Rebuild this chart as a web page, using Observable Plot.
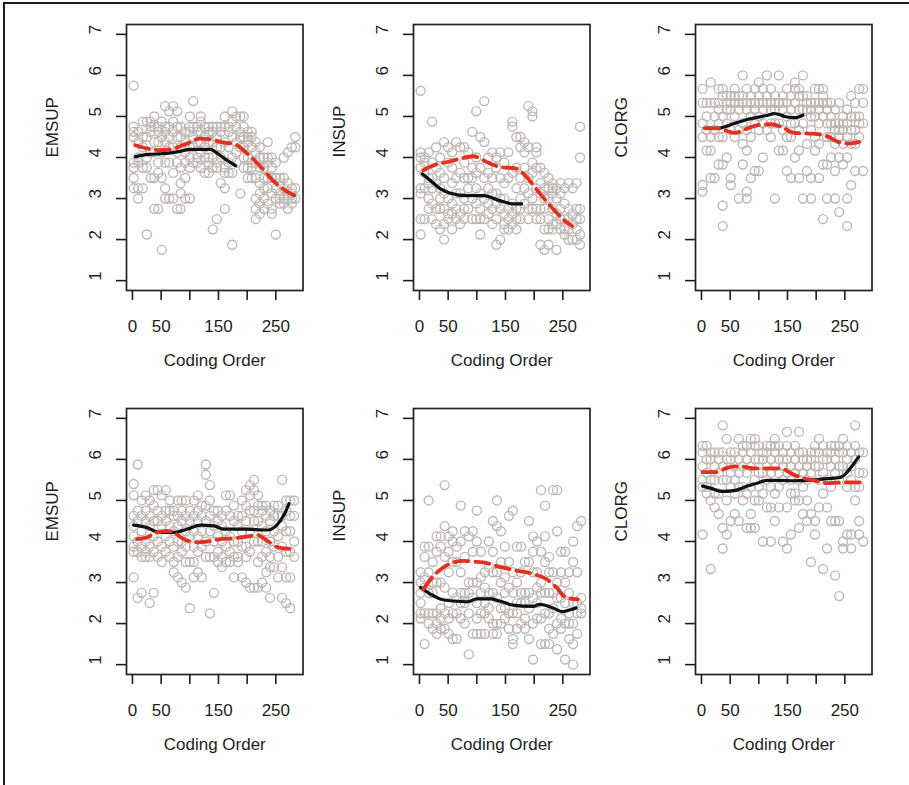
<!DOCTYPE html>
<html>
<head>
<meta charset="utf-8">
<script src="https://cdn.jsdelivr.net/npm/d3@7"></script>
<script src="https://cdn.jsdelivr.net/npm/@observablehq/plot@0.6"></script>
<style>
  html, body { margin: 0; padding: 0; background: #fff; }
  #root { position: relative; width: 909px; height: 785px; overflow: hidden; background: #fff; }
  .edge { position: absolute; background: #1c1c1c; }
</style>
</head>
<body>
<div id="root">
  <div class="edge" style="left:3px;top:2px;width:2px;height:783px;"></div>
  <div class="edge" style="left:3px;top:2px;width:906px;height:2px;"></div>
</div>
<script>
// ---------- tick values / labels ----------
const xTicks = [0, 50, 100, 150, 200, 250];
const xTickShown = [0, 50, 150, 250];
const yTicks = [1, 2, 3, 4, 5, 6, 7];
const xTitle = "Coding Order";
const yTitles = ["EMSUP", "INSUP", "CLORG", "EMSUP", "INSUP", "CLORG"];

// ---------- scatter data: [coding order, [scores...]] ----------
const emsupTop = [
  [2,[5.75,4.75,4.625,4.5,3.875,3.75,3.5,3.25]],[10,[4.625,4.375,4.0,3.875,3.25,3.0]],
  [18,[4.875,4.5,4.25,3.75,3.25]],[25,[4.875,4.5,4.0,3.75,2.125]],
  [32,[4.875,4.75,4.625,4.125,3.5]],[38,[5.0,4.75,4.375,4.125,3.5,2.75]],
  [45,[4.75,4.625,4.375,3.875,3.625,2.75]],[51,[4.875,4.5,4.125,3.5,1.75]],
  [57,[5.25,4.75,4.625,4.375,3.875,3.25,3.0]],[64,[5.125,4.75,4.5,4.25,3.875,3.0]],
  [71,[5.25,4.875,4.625,4.25,3.625,3.0]],[78,[5.125,4.75,4.5,4.125,3.875,2.75]],
  [84,[4.75,4.5,4.25,3.75,3.375,3.125,2.75]],[92,[4.625,4.375,4.125,3.875,3.5,3.0]],
  [100,[5.0,4.75,4.625,4.25,4.0,3.75,3.0]],[106,[5.375,4.75,4.5,4.25,3.875]],
  [113,[4.75,4.625,4.375,4.0,3.875]],[119,[5.0,4.875,4.625,4.375,4.125,3.75]],
  [126,[4.75,4.5,4.25,4.0,3.625]],[133,[4.75,4.625,4.375,4.0,3.875,3.625]],
  [140,[4.75,4.625,4.375,4.0,3.75,2.25]],[147,[4.75,4.5,4.25,3.875,3.75,2.5]],
  [154,[4.75,4.625,4.25,4.0,3.375]],[161,[5.0,4.75,4.375,3.75,3.625,3.25,2.75]],
  [168,[4.75,4.625,4.25,3.875,3.625]],[174,[5.125,4.875,4.5,4.0,3.625,1.875]],
  [181,[5.0,4.75,4.375,4.125,3.875]],[188,[5.0,4.625,4.5,4.25,3.125]],
  [194,[5.0,4.75,4.5,4.25,4.0,3.75]],[201,[4.625,4.5,4.375,4.0,3.75,3.5]],
  [208,[4.625,4.5,4.25,3.875,3.75,3.5]],[215,[4.375,4.125,3.875,3.5,3.0,2.75,2.5]],
  [222,[4.25,4.0,3.75,3.375,3.125,2.875,2.625]],[229,[4.0,3.75,3.5,3.25,3.0,2.75]],
  [236,[4.375,4.0,3.875,3.5,3.25,2.875]],[243,[4.0,3.75,3.5,3.125,2.75,2.625]],
  [250,[3.875,3.5,3.25,3.0,2.125]],[257,[3.5,3.375,3.125,3.0,2.875]],
  [264,[4.0,3.5,3.25,3.0,2.875]],[271,[4.125,3.375,3.125,3.0,2.75]],
  [278,[4.25,3.25,3.125,3.0,2.875]],[284,[4.5,4.25,3.25,3.0]]
];
const insupTop = [
  [2,[5.625,4.125,4.0,3.75,3.25,3.125,2.5,2.125]],[9,[4.0,3.875,3.625,3.25,2.5]],
  [16,[4.125,3.5,3.375,3.0,2.75]],[22,[4.875,3.875,3.5,3.25,2.875,2.5]],
  [29,[4.25,3.75,3.375,2.75,2.375]],[36,[4.0,3.625,3.25,3.0,2.75,2.25]],
  [43,[4.375,3.5,3.125,2.75,2.375,2.0]],[50,[4.25,3.875,3.0,2.625,2.5]],
  [57,[4.125,3.75,3.375,2.875,2.625,2.25]],[64,[4.375,3.5,3.125,2.75,2.5]],
  [71,[4.25,3.625,3.125,2.625,2.375]],[78,[4.25,3.875,3.5,3.0,2.75,2.5]],
  [85,[4.125,3.5,3.25,2.75]],[92,[4.625,3.75,3.5,3.0,2.5]],
  [99,[5.125,4.0,3.625,3.25,2.875,2.5]],[106,[4.5,3.75,3.125,2.75,2.5,2.125]],
  [113,[5.375,4.375,3.5,3.0,2.5]],[120,[4.0,3.625,3.25,2.875,2.625]],
  [127,[4.125,3.5,3.125,2.75,2.375]],[134,[4.0,3.75,3.125,2.875,2.5,1.875]],
  [141,[4.125,3.5,3.0,2.75,2.0]],[148,[3.875,3.375,3.0,2.625,2.375,2.25]],
  [155,[4.125,3.5,2.75,2.5,2.25]],[162,[4.875,4.75,3.625,2.875,2.625,2.375]],
  [169,[4.5,3.75,3.25,2.75,2.5,2.25]],[176,[4.5,4.25,3.5,3.0,2.75,2.5]],
  [183,[4.375,4.125,3.75,3.25,2.875]],[190,[5.25,4.25,3.5,3.125,2.75,2.5]],
  [197,[5.125,5.0,3.875,3.625,3.0,2.75]],[204,[4.25,4.125,3.75,3.25,2.75,2.5]],
  [211,[3.75,3.375,3.125,2.75,2.5,1.875]],[218,[3.625,3.25,3.0,2.75,2.25,1.75]],
  [225,[3.5,3.25,3.0,2.5,2.25,1.875]],[232,[3.375,3.25,3.125,2.75,2.375,2.25]],
  [239,[3.25,3.0,2.625,2.375,1.75]],[246,[3.375,3.125,2.75,2.5,2.25]],
  [253,[3.25,2.875,2.5,2.25,2.125]],[260,[3.375,2.75,2.5,2.25,2.0]],
  [267,[3.25,2.625,2.375,2.0]],[274,[3.375,2.75,2.5,2.25,2.0]],
  [280,[4.75,4.0,2.75,2.5,2.125,1.875]]
];
const clorgTop = [
  [2,[5.67,5.33,4.83,4.5,3.33,3.17]],[9,[5.33,5.0,4.67,4.17]],[16,[5.83,5.33,4.5,4.17,3.5]],
  [23,[5.33,5.0,4.67,3.5]],[30,[5.67,5.33,5.17,4.83,4.5,3.83]],[37,[5.67,5.5,5.0,4.5,3.83,2.83,2.33]],
  [44,[5.5,5.33,5.17,4.83,4.0]],[51,[5.5,5.33,5.17,4.67,3.5,3.33]],[58,[5.67,5.5,5.33,5.0,4.5]],
  [65,[5.5,5.33,5.17,4.67,3.0]],[72,[6.0,5.5,5.33,4.83,4.33,3.83]],[79,[5.67,5.33,5.17,4.67,4.17,3.17,3.0]],
  [86,[5.5,5.33,5.0,4.5,3.5]],[93,[5.67,5.33,5.17,4.83,3.67]],[100,[5.83,5.5,5.33,5.0,4.67,3.67]],
  [107,[5.67,5.33,5.17,4.83,4.0]],[114,[6.0,5.5,5.33,4.67]],[121,[5.67,5.33,5.17,4.83,4.5]],
  [128,[5.5,5.33,5.17,4.83,3.0]],[135,[6.0,5.33,4.83,4.17]],[142,[5.5,5.33,5.17,4.67,4.17]],
  [149,[5.67,5.33,5.0,4.5,3.67]],[156,[5.5,5.17,4.83,4.5,3.5]],[163,[5.83,5.67,5.33,4.83,4.0]],
  [170,[5.67,5.5,5.17,4.67,4.17,3.5]],[177,[6.0,5.5,5.17,4.83,3.0]],[184,[5.5,5.33,5.17,4.33,3.67]],
  [191,[5.33,5.17,5.0,4.67,3.5,3.0]],[198,[5.67,5.33,5.0,4.5,4.17]],[205,[5.67,5.33,5.17,4.83,4.33,3.5]],
  [212,[5.67,5.5,5.33,5.0,3.83,2.5]],[219,[5.33,5.17,4.83,4.5,3.83,3.0]],[226,[5.33,5.0,4.83,4.5,4.0]],
  [233,[5.17,4.83,4.67,4.33,3.67,3.0]],[240,[5.33,4.83,4.67,4.5,4.0,2.67]],[247,[5.0,4.83,4.67,4.33,3.83]],
  [254,[5.17,4.83,4.5,4.0,3.0,2.33]],[261,[5.5,5.0,4.67,4.33,3.33]],[268,[5.33,5.0,4.67,4.33,3.67]],
  [275,[5.67,5.0,4.83,4.5]],[282,[5.67,5.33,4.83,3.67]]
];
const emsupBottom = [
  [2,[5.4,5.125,4.625,4.375,4.125,3.875,3.75,3.125]],[9,[5.875,4.75,4.5,4.0,3.75,2.625]],
  [16,[5.0,4.625,4.25,3.875,3.625,2.75]],[23,[5.125,4.75,4.5,4.0,3.75,3.625]],
  [30,[5.0,4.625,4.375,3.875,3.625,2.5]],[37,[5.25,4.875,4.5,4.125,3.75,2.75]],
  [44,[5.25,4.75,4.5,4.0,3.625]],[51,[5.125,4.625,4.375,3.875,3.5]],
  [58,[5.25,4.75,4.5,4.125,3.75]],[65,[5.0,4.75,4.375,4.0,3.625]],
  [72,[4.75,4.625,4.25,3.875,3.5,3.25]],[79,[5.0,4.625,4.375,4.0,3.625,3.125]],
  [86,[5.0,4.75,4.5,4.0,3.75,3.0]],[93,[5.0,4.625,4.25,3.875,3.5,2.875]],
  [100,[4.75,4.5,4.125,3.5,2.375]],[107,[5.0,4.625,4.25,3.875,3.5,3.125]],
  [114,[5.125,4.75,4.5,4.125,3.75,3.25]],[121,[4.875,4.625,4.25,3.875,3.125]],
  [128,[5.875,5.625,4.875,4.5,4.0,3.625]],[135,[5.375,5.0,4.625,4.25,3.625,2.25]],
  [142,[4.75,4.375,4.0,3.625,2.75]],[149,[4.75,4.5,4.125,3.75,3.5]],
  [156,[4.625,4.375,4.0,3.625,3.375]],[163,[5.125,4.75,4.25,3.875,3.5]],
  [170,[5.125,4.625,4.125,3.75,3.5]],[177,[4.875,4.5,4.0,3.625,3.125]],
  [184,[4.625,4.375,4.0,3.625,3.5]],[191,[5.0,4.625,4.25,3.875,3.125]],
  [198,[5.25,4.875,4.5,3.875,3.625,3.0]],[205,[5.375,5.125,4.75,4.25,3.75,2.875]],
  [212,[5.5,5.25,4.75,4.5,4.0,2.875]],[219,[5.125,4.875,4.5,4.0,3.5,2.875]],
  [226,[4.875,4.75,4.375,4.0,3.625,3.0]],[233,[4.875,4.625,4.25,3.75,3.25,2.875]],
  [240,[4.75,4.5,4.0,3.625,3.375,2.625]],[247,[4.875,4.625,4.25,3.875,3.375]],
  [254,[4.875,4.625,4.125,3.625,3.125]],[261,[5.5,4.625,4.375,3.875,3.375,2.625]],
  [268,[5.0,4.75,4.25,3.75,3.125,2.5]],[275,[5.0,4.625,4.25,3.75,3.125,2.375]],
  [282,[5.0,4.625,4.0,3.625]]
];
const insupBottom = [
  [2,[3.25,3.0,2.75,2.5,2.25,2.125]],[9,[3.875,3.625,3.125,2.875,2.25,1.5]],
  [16,[5.0,3.875,3.25,2.75,2.25,2.0]],[23,[3.5,3.0,2.75,2.25,1.875]],
  [30,[4.125,3.75,3.0,2.25,2.0,1.75]],[37,[4.125,3.875,3.0,2.375,2.125,1.875]],
  [44,[5.375,4.375,3.625,2.875,2.25,1.875]],[51,[4.125,3.75,3.25,2.5,2.125,1.75]],
  [58,[4.25,4.0,3.5,2.75,2.25,1.625]],[65,[3.875,3.5,2.625,2.25,1.625]],
  [72,[4.875,4.0,3.25,2.75,2.5,2.125]],[79,[4.25,3.625,2.75,2.5,2.0]],
  [86,[4.125,3.0,2.75,2.25,1.25]],[93,[4.25,3.75,3.0,2.625,1.75]],
  [100,[4.75,4.0,3.0,2.5,2.125,1.75]],[107,[3.75,3.125,2.75,2.25,1.75]],
  [114,[3.25,2.875,2.5,2.25,1.75]],[121,[4.0,3.375,2.75,2.375,2.125]],
  [128,[4.5,3.75,3.25,2.75,2.0,1.75]],[135,[5.0,4.375,3.25,2.625,2.0,1.75]],
  [142,[4.25,3.5,3.0,2.375,2.0]],[149,[3.875,3.125,2.75,2.375,2.125]],
  [156,[4.625,3.5,2.875,2.25,1.875]],[163,[4.75,3.25,2.75,2.25,1.625,1.5]],
  [170,[3.875,3.0,2.5,2.25,1.875]],[177,[3.875,3.25,2.75,2.5,2.0]],
  [184,[3.5,2.75,2.5,2.125,1.875]],[191,[4.5,3.5,2.75,2.375,1.625]],
  [198,[4.125,3.75,3.25,2.625,2.0,1.125]],[205,[4.0,3.25,2.875,2.5,2.125]],
  [212,[5.25,3.75,3.0,2.75,2.125,1.5]],[219,[4.875,4.125,3.5,2.75,2.25,1.5]],
  [226,[3.625,3.25,2.75,2.25,1.875,1.5]],[233,[5.25,3.25,2.75,2.375,1.75]],
  [240,[5.25,4.25,3.0,2.625,2.0,1.375]],[247,[3.75,3.25,2.625,2.125,1.875]],
  [254,[3.75,3.0,2.5,2.0,1.125]],[261,[3.25,2.75,2.25,2.0,1.625]],
  [268,[4.0,3.5,2.5,2.0,1.5,1.0]],[275,[4.375,3.25,2.5,2.25,1.75]],
  [282,[4.5,2.625,2.375,2.25]]
];
const clorgBottom = [
  [2,[6.33,6.17,5.83,5.5,5.33,4.17]],[9,[6.33,6.0,5.67,5.33,5.17]],[16,[6.17,6.0,5.5,5.0,3.33]],
  [23,[6.17,5.83,5.5,5.17,4.83]],[30,[6.17,6.0,5.67,5.17,4.67]],[37,[6.83,6.17,5.83,5.5,4.33,3.83]],
  [44,[6.5,6.0,5.5,5.0,4.17]],[51,[6.17,6.0,5.67,5.33,4.5]],[58,[6.17,5.83,5.5,5.17,4.67]],
  [65,[6.5,6.0,5.67,5.33,4.5]],[72,[6.33,6.17,5.83,5.33,5.0]],[79,[6.33,6.0,5.67,5.17,4.33]],
  [86,[6.5,6.17,5.83,5.33,4.67,4.33]],[93,[6.5,6.33,6.0,5.5,5.0,4.33]],[100,[6.33,6.0,5.67,5.33,5.0]],
  [107,[6.17,6.0,5.67,5.17,4.0]],[114,[6.33,6.17,5.83,5.5,4.83]],[121,[6.33,6.0,5.67,5.33,4.83,4.0]],
  [128,[6.5,6.33,6.17,5.83,5.17,4.5]],[135,[6.33,6.0,5.67,5.33,4.83]],[142,[6.17,6.0,5.83,5.5,4.0]],
  [149,[6.67,6.33,6.0,5.67,4.83,3.83]],[156,[6.17,5.83,5.5,5.17,4.17]],[163,[6.33,6.0,5.67,5.17,5.0]],
  [170,[6.67,6.17,5.83,5.5,5.0,4.33]],[177,[6.17,6.0,5.67,5.33,4.67]],[184,[6.0,5.83,5.5,5.0,4.5]],
  [191,[6.17,6.0,5.67,4.67,3.5]],[198,[6.33,6.17,5.83,4.5,4.17]],[205,[6.5,6.17,5.83,5.5,4.83]],
  [212,[6.33,6.0,5.67,5.17,3.33]],[219,[6.17,6.0,5.5,4.83,3.83]],[226,[6.33,6.17,5.83,5.33,4.5]],
  [233,[6.33,6.0,5.67,4.5,3.17]],[240,[6.33,6.17,5.83,5.5,4.5,2.67]],[247,[6.5,6.17,5.83,4.0,3.83]],
  [254,[6.33,6.0,5.67,5.33,4.17]],[261,[6.17,5.83,5.5,4.17,3.83]],[268,[6.83,6.33,6.0,5.33,5.0]],
  [275,[6.17,5.67,5.33,4.5,4.17]],[282,[6.17,5.67,4.0]]
];

// ---------- smoother lines: [coding order, score] ----------
const emsupTopSolid = [[5,4.02],[25,4.07],[60,4.1],[83,4.15],[101,4.2],[136,4.2],[150,4.08],[165,3.93],[180,3.8]];
const emsupTopDash = [[5,4.3],[25,4.22],[48,4.18],[72,4.22],[95,4.34],[118,4.46],[136,4.44],[160,4.36],[177,4.33],[200,4.1],[224,3.77],[247,3.41],[276,3.12],[282,3.08]];
const insupTopSolid = [[5,3.6],[19,3.44],[36,3.24],[54,3.13],[83,3.07],[112,3.07],[140,2.95],[164,2.87],[178,2.87]];
const insupTopDash = [[7,3.69],[25,3.81],[48,3.89],[71,3.97],[94,4.03],[117,3.89],[140,3.77],[169,3.73],[187,3.52],[210,3.12],[233,2.75],[250,2.5],[266,2.33]];
const clorgTopSolid = [[6,4.71],[28,4.71],[57,4.83],[87,4.95],[116,5.03],[127,5.07],[145,5.0],[162,4.97],[177,5.03]];
const clorgTopDash = [[6,4.71],[28,4.71],[57,4.6],[81,4.71],[98,4.79],[121,4.81],[139,4.75],[162,4.6],[192,4.58],[215,4.54],[238,4.38],[256,4.34],[275,4.38]];
const emsupBottomSolid = [[2,4.4],[25,4.34],[48,4.22],[72,4.22],[95,4.3],[119,4.4],[142,4.38],[159,4.3],[194,4.3],[235,4.28],[253,4.42],[265,4.67],[273,4.92]];
const emsupBottomDash = [[8,4.06],[25,4.1],[43,4.22],[60,4.26],[72,4.22],[89,4.06],[113,3.98],[130,4.0],[154,4.06],[177,4.08],[200,4.12],[218,4.16],[235,4.02],[253,3.86],[276,3.82],[283,3.82]];
const insupBottomSolid = [[2,2.88],[19,2.72],[36,2.6],[59,2.55],[83,2.53],[100,2.6],[123,2.6],[140,2.55],[163,2.45],[198,2.42],[210,2.47],[233,2.38],[250,2.29],[262,2.33],[273,2.38]];
const insupBottomDash = [[7,2.84],[25,3.17],[42,3.37],[59,3.49],[77,3.53],[94,3.51],[111,3.49],[140,3.38],[169,3.29],[198,3.21],[222,3.08],[239,2.88],[256,2.63],[276,2.59]];
const clorgBottomSolid = [[2,5.35],[16,5.3],[34,5.22],[57,5.24],[80,5.35],[97,5.42],[115,5.49],[138,5.49],[161,5.48],[184,5.49],[220,5.53],[242,5.56],[254,5.69],[266,5.9],[274,6.06]];
const clorgBottomDash = [[2,5.69],[25,5.69],[42,5.78],[57,5.83],[74,5.82],[92,5.78],[121,5.78],[138,5.78],[158,5.65],[173,5.56],[196,5.49],[220,5.42],[242,5.44],[277,5.44]];

// ---------- layout ----------
const boxLefts = [125.5, 413, 694.5];
const boxTops = [24, 408.3];
const BOX_W = 176.5, BOX_H = 266;
const ML = 110, MT = 20, MR = 12, MB = 100;

const panels = [
  [emsupTop, emsupTopSolid, emsupTopDash],
  [insupTop, insupTopSolid, insupTopDash],
  [clorgTop, clorgTopSolid, clorgTopDash],
  [emsupBottom, emsupBottomSolid, emsupBottomDash],
  [insupBottom, insupBottomSolid, insupBottomDash],
  [clorgBottom, clorgBottomSolid, clorgBottomDash]
];

const root = document.getElementById("root");
panels.forEach(([cols, solid, dash], i) => {
  const pts = cols.flatMap(([x, ys]) => ys.map(y => ({x, y})));
  const svg = Plot.plot({
    width: BOX_W + ML + MR,
    height: BOX_H + MT + MB,
    marginLeft: ML, marginTop: MT, marginRight: MR, marginBottom: MB,
    x: {domain: [-10.4, 297.4]},
    y: {domain: [0.76, 7.24]},
    style: {fontFamily: "'Liberation Sans', Arial, sans-serif", fontSize: "17px", color: "#1e1e1e", background: "transparent", overflow: "visible"},
    marks: [
      Plot.dot(pts, {x: "x", y: "y", r: 4.5, stroke: "#bfb7b3", strokeWidth: 1.35, fill: "none"}),
      Plot.line(solid, {x: d => d[0], y: d => d[1], stroke: "#111", strokeWidth: 3.2, curve: "monotone-x"}),
      Plot.line(dash, {x: d => d[0], y: d => d[1], stroke: "#e3301f", strokeWidth: 3.8, strokeDasharray: "14,7", curve: "monotone-x"}),
      Plot.frame({stroke: "#222", strokeWidth: 1.7}),
      Plot.axisX({ticks: xTicks, tickSize: 10, tickPadding: 19.5, strokeWidth: 1.6, label: null,
                  tickFormat: d => xTickShown.includes(d) ? String(d) : ""}),
      Plot.axisY({ticks: yTicks, tickSize: 10, strokeWidth: 1.6, label: null, tickFormat: () => ""}),
      Plot.text(yTicks, {y: d => d, text: d => String(d), frameAnchor: "left", dx: -30.5, rotate: -90, fill: "#1e1e1e"}),
      Plot.text([yTitles[i]], {text: d => d, frameAnchor: "left", dx: -74, rotate: -90, fill: "#1e1e1e"}),
      Plot.text([xTitle], {text: d => d, frameAnchor: "bottom", dy: 75.5, fill: "#1e1e1e"})
    ]
  });
  const col = i % 3, row = Math.floor(i / 3);
  svg.style.position = "absolute";
  svg.style.left = (boxLefts[col] - ML) + "px";
  svg.style.top = (boxTops[row] - MT) + "px";
  svg.style.maxWidth = "none";
  root.appendChild(svg);
});
</script>
</body>
</html>
